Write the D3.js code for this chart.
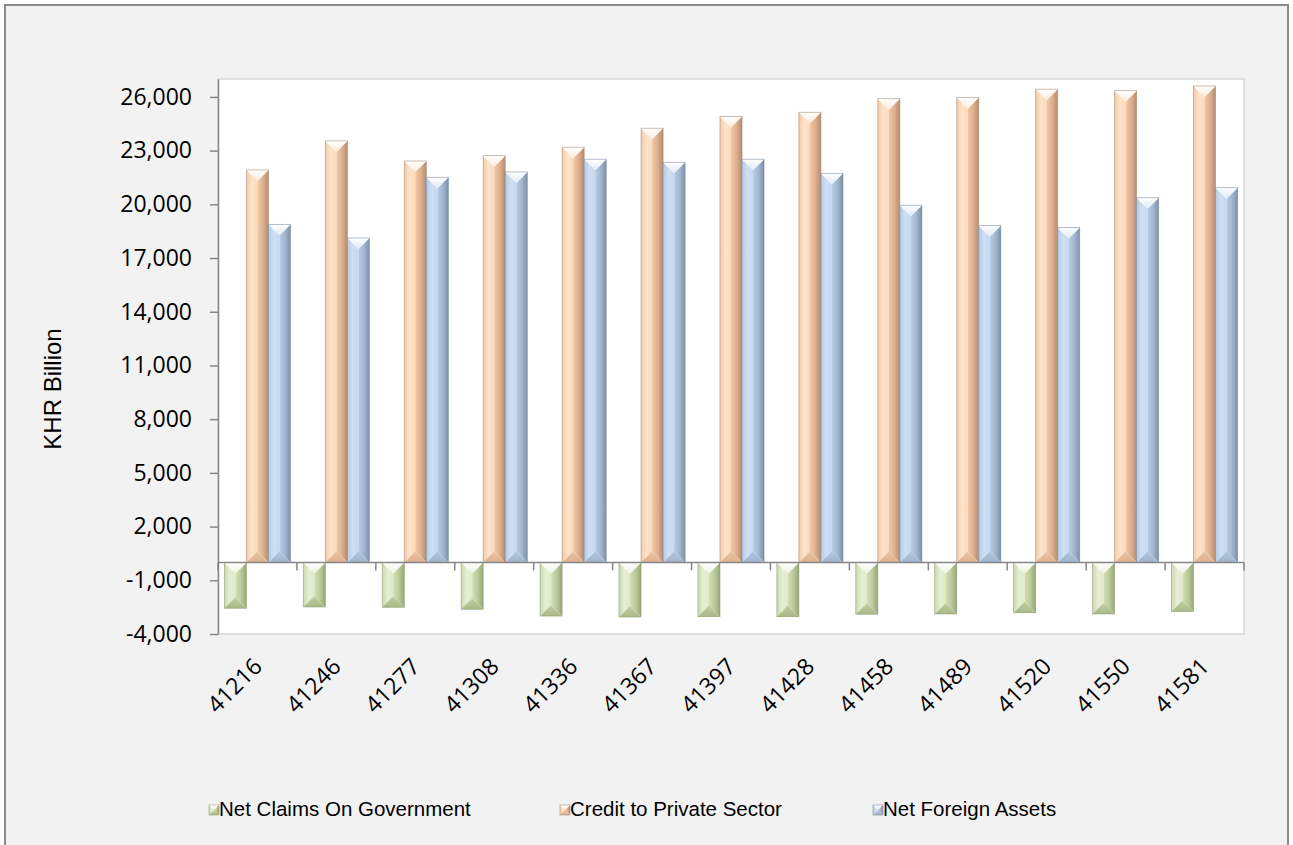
<!DOCTYPE html>
<html>
<head>
<meta charset="utf-8">
<script src="https://cdn.jsdelivr.net/npm/d3@7"></script>
<style>
  body { margin: 0; background: #ffffff; }
  svg { display: block; }
</style>
</head>
<body>
<div id="chart"></div>
<script>
// values (KHR billion)
const categories = ["41216", "41246", "41277", "41308", "41336", "41367", "41397",
                    "41428", "41458", "41489", "41520", "41550", "41581"];
const seriesNames = ["Net Claims On Government", "Credit to Private Sector", "Net Foreign Assets"];
const netClaims = [-2560, -2490, -2510, -2620, -3000, -3050, -3030, -3030, -2900, -2880, -2810, -2880, -2750];
const creditPrivate = [21920, 23540, 22420, 22720, 23190, 24250, 24900, 25140, 25900, 25960, 26430, 26350, 26610];
const netForeign = [18880, 18120, 21510, 21810, 22520, 22350, 22520, 21730, 19950, 18810, 18700, 20370, 20930];
const yTicks = [-4000, -1000, 2000, 5000, 8000, 11000, 14000, 17000, 20000, 23000, 26000];
const yDomain = [-4000, 27000];
const yTitle = "KHR Billion";

const width = 1293;
const height = 845;
const plot = { left: 218, top: 79, right: 1244, bottom: 634 };

// bevel colours per series: left facet, right facet, top facet, bottom facet, edge
const palette = {
    "Net Claims On Government": { left: ["#cbd8b0", "#e6efd3", "#dfe9c9"], right: ["#d2dfb5", "#bccb9b", "#97a676"], top: ["#ffffff", "#edf3df"], bottom: ["#c2d0a2", "#a9b887"], edge: "#8f9c72" },
    "Credit to Private Sector": { left: ["#f2cba9", "#fee4ca", "#fbd8bb"], right: ["#f0c9a8", "#deb08e", "#b38d72"], top: ["#ffffff", "#fdebd9"], bottom: ["#ecc3a2", "#deb08e"], edge: "#a88a73" },
    "Net Foreign Assets": { left: ["#b7cbe4", "#cfe0f5", "#c4d8f0"], right: ["#b8cce5", "#a3b7d0", "#7f91a8"], top: ["#ffffff", "#e0eaf7"], bottom: ["#b2c5de", "#a0b4cd"], edge: "#7b8ba0" }
};

const rows = categories.map((c, i) => ({
    cat: c,
    values: [
        { key: seriesNames[0], value: netClaims[i] },
        { key: seriesNames[1], value: creditPrivate[i] },
        { key: seriesNames[2], value: netForeign[i] }
    ]
}));

const svg = d3.select("#chart")
    .append("svg")
    .attr("width", width)
    .attr("height", height);

// gradients for the bevelled bars
const defs = svg.append("defs");
seriesNames.forEach((name, si) => {
    const p = palette[name];
    const grad = (id, stops, x2, y2) => {
        const g = defs.append("linearGradient").attr("id", id)
            .attr("x1", 0).attr("y1", 0).attr("x2", x2).attr("y2", y2);
        stops.forEach((c, k) => g.append("stop")
            .attr("offset", k / (stops.length - 1)).attr("stop-color", c));
    };
    grad(`s${si}-left`, p.left, 1, 0);
    grad(`s${si}-right`, p.right, 1, 0);
    grad(`s${si}-top`, p.top, 0, 1);
    grad(`s${si}-bottom`, p.bottom, 0, 1);
});

// chart area + frame (bottom edge runs off the picture)
svg.append("rect")
    .attr("x", 5).attr("y", 5)
    .attr("width", width - 10).attr("height", height + 10)
    .attr("fill", "#f2f2f2")
    .attr("stroke", "#8c8c8c")
    .attr("stroke-width", 2);

svg.append("rect")
    .attr("x", plot.left).attr("y", plot.top)
    .attr("width", plot.right - plot.left).attr("height", plot.bottom - plot.top)
    .attr("fill", "#ffffff")
    .attr("stroke", "#d9d9d9")
    .attr("stroke-width", 1.5);

// scales
const x0 = d3.scaleBand()
    .domain(categories)
    .range([plot.left, plot.right])
    .padding(0);

const x1 = d3.scaleBand()
    .domain(seriesNames)
    .range([0, x0.bandwidth()])
    .paddingInner(0)
    .paddingOuter(0.29);

const y = d3.scaleLinear()
    .domain(yDomain)
    .range([plot.bottom, plot.top]);

// draws one bevelled block (four facets meeting in the middle)
function bevel(g, si, bx, by, bw, bh) {
    const b = Math.min(bw / 2, bh / 2);
    const pts = (arr) => arr.map((p) => p.join(",")).join(" ");
    g.append("polygon").attr("fill", `url(#s${si}-left)`)
        .attr("points", pts([[bx, by], [bx + b, by + b], [bx + b, by + bh - b], [bx, by + bh]]));
    g.append("polygon").attr("fill", `url(#s${si}-right)`)
        .attr("points", pts([[bx + bw, by], [bx + bw - b, by + b], [bx + bw - b, by + bh - b], [bx + bw, by + bh]]));
    if (bw - 2 * b > 0.5) {
        g.append("rect").attr("x", bx + b).attr("y", by + b)
            .attr("width", bw - 2 * b).attr("height", bh - 2 * b)
            .attr("fill", palette[seriesNames[si]].left[2]);
    }
    g.append("polygon").attr("fill", `url(#s${si}-top)`)
        .attr("points", pts([[bx, by], [bx + bw, by], [bx + bw - b, by + b], [bx + b, by + b]]));
    g.append("polygon").attr("fill", `url(#s${si}-bottom)`)
        .attr("points", pts([[bx, by + bh], [bx + bw, by + bh], [bx + bw - b, by + bh - b], [bx + b, by + bh - b]]));
    g.append("rect").attr("x", bx).attr("y", by)
        .attr("width", bw).attr("height", bh)
        .attr("fill", "none")
        .attr("stroke", palette[seriesNames[si]].edge)
        .attr("stroke-opacity", 0.7)
        .attr("stroke-width", 0.8);
}

// bars
const groups = svg.append("g").attr("class", "bars")
    .selectAll("g")
    .data(rows)
    .join("g")
    .attr("transform", (d) => `translate(${x0(d.cat)},0)`);

groups.each(function (d) {
    const g = d3.select(this);
    d.values.forEach((v) => {
        const si = seriesNames.indexOf(v.key);
        const top = y(Math.max(0, v.value));
        const h = Math.abs(y(v.value) - y(0));
        bevel(g.append("g"), si, x1(v.key), top, x1.bandwidth(), h);
    });
});

// y axis
const yAxis = d3.axisLeft(y)
    .tickValues(yTicks)
    .tickSize(8)
    .tickSizeOuter(0)
    .tickPadding(18)
    .tickFormat((d) => d3.format(",")(d).replace("\u2212", "-"));

const yG = svg.append("g")
    .attr("transform", `translate(${plot.left},0)`)
    .call(yAxis);
yG.select(".domain").attr("stroke", "#868686").attr("stroke-width", 1.5);
yG.selectAll(".tick line").attr("stroke", "#868686").attr("stroke-width", 1.5);
yG.selectAll(".tick text")
    .attr("fill", "#000")
    .style("font-family", "'Open Sans', sans-serif")
    .style("font-size", "23px");

// category axis along the zero line
const xG = svg.append("g").attr("class", "x-axis");
xG.append("line")
    .attr("x1", plot.left).attr("x2", plot.right)
    .attr("y1", y(0)).attr("y2", y(0))
    .attr("stroke", "#868686").attr("stroke-width", 1.5);

xG.selectAll(".bound")
    .data(categories.map((c) => x0(c)).concat([x0.range()[1]]))
    .join("line")
    .attr("class", "bound")
    .attr("x1", (d) => d).attr("x2", (d) => d)
    .attr("y1", y(0)).attr("y2", y(0) + 8)
    .attr("stroke", "#868686").attr("stroke-width", 1.5);

// rotated labels under the plot area
svg.append("g").attr("class", "x-labels")
    .selectAll("text")
    .data(categories)
    .join("text")
    .attr("transform", (d) => `translate(${x0(d) + x0.bandwidth() / 2 + 6},668) rotate(-45)`)
    .attr("text-anchor", "end")
    .style("font-family", "'Open Sans', sans-serif")
    .style("font-size", "23px")
    .attr("fill", "#000")
    .text((d) => d);

// y axis title
svg.append("text")
    .attr("transform", `translate(61,389) rotate(-90)`)
    .attr("text-anchor", "middle")
    .style("font-family", "'Liberation Sans', Arial, sans-serif")
    .style("font-size", "24px")
    .attr("fill", "#000")
    .text(yTitle);

// legend
const legendX = [209, 560, 873];
const legend = svg.append("g").attr("class", "legend")
    .selectAll("g")
    .data(seriesNames)
    .join("g")
    .attr("transform", (d, i) => `translate(${legendX[i]},805)`);

legend.each(function (d, i) {
    bevel(d3.select(this), i, 0, 0, 10, 10);
});

legend.append("text")
    .attr("x", 10)
    .attr("y", 11)
    .style("font-family", "'Liberation Sans', Arial, sans-serif")
    .style("font-size", "20.5px")
    .attr("fill", "#000")
    .text((d) => d);
</script>
</body>
</html>
